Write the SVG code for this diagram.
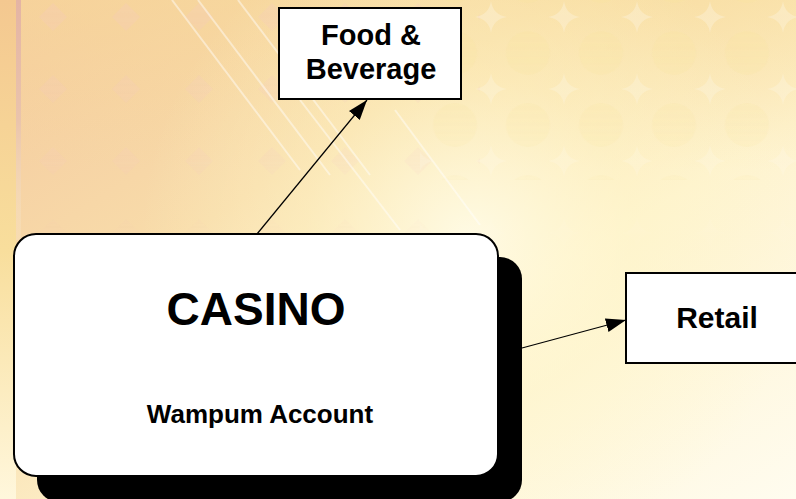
<svg xmlns="http://www.w3.org/2000/svg" width="796" height="499" viewBox="0 0 796 499">
  <defs>
    <linearGradient id="bg" x1="0" y1="0" x2="1" y2="1">
      <stop offset="0" stop-color="#f4c89e"/>
      <stop offset="0.35" stop-color="#f8dcaa"/>
      <stop offset="0.62" stop-color="#fef3cf"/>
      <stop offset="1" stop-color="#fffcef"/>
    </linearGradient>
    <radialGradient id="glow" cx="470" cy="240" r="330" gradientUnits="userSpaceOnUse">
      <stop offset="0" stop-color="#fffce8" stop-opacity="0.9"/>
      <stop offset="0.5" stop-color="#fff6c8" stop-opacity="0.45"/>
      <stop offset="1" stop-color="#fff6c8" stop-opacity="0"/>
    </radialGradient>
    <linearGradient id="topband" x1="0" y1="0" x2="0" y2="1">
      <stop offset="0" stop-color="#f8dc98" stop-opacity="0.5"/>
      <stop offset="1" stop-color="#f8dc98" stop-opacity="0"/>
    </linearGradient>
    <linearGradient id="fade" x1="0" y1="0" x2="0" y2="1">
      <stop offset="0" stop-color="#fff" stop-opacity="1"/>
      <stop offset="0.6" stop-color="#fff" stop-opacity="0.6"/>
      <stop offset="1" stop-color="#fff" stop-opacity="0"/>
    </linearGradient>
    <mask id="fadeMask">
      <rect x="0" y="0" width="796" height="260" fill="url(#fade)"/>
    </mask>
    <linearGradient id="strip" x1="0" y1="0" x2="0" y2="1">
      <stop offset="0" stop-color="#f4c890"/>
      <stop offset="0.5" stop-color="#f8de9c"/>
      <stop offset="1" stop-color="#fff7dc"/>
    </linearGradient>
    <linearGradient id="vline" x1="0" y1="0" x2="0" y2="1">
      <stop offset="0" stop-color="#e4b4a4"/>
      <stop offset="0.5" stop-color="#eac4ac"/>
      <stop offset="1" stop-color="#f8e8c8" stop-opacity="0.3"/>
    </linearGradient>
    <pattern id="dia" width="73" height="72" patternUnits="userSpaceOnUse" x="17" y="-19">
      <path d="M36 20 Q38 34 52 36 Q38 38 36 52 Q34 38 20 36 Q34 34 36 20 Z" fill="#ffffff" fill-opacity="0.25"/>
    </pattern>
    <pattern id="circ" width="73" height="72" patternUnits="userSpaceOnUse" x="-19.5" y="-55">
      <circle cx="36.5" cy="36" r="22" fill="#fbe49a" fill-opacity="0.2"/>
    </pattern>
    <pattern id="diaL" width="73" height="72" patternUnits="userSpaceOnUse" x="17" y="-19">
      <path d="M36 22 L50 36 L36 50 L22 36 Z" fill="#f4c8c8" fill-opacity="0.22"/>
    </pattern>
    <marker id="arrow" markerWidth="20" markerHeight="14" refX="20" refY="7" orient="auto" markerUnits="userSpaceOnUse">
      <path d="M0,0 L20,7 L0,14 Z" fill="#000"/>
    </marker>
    <style>
      .box { fill: #ffffff; stroke: #000000; stroke-width: 2; }
      .shadow { fill: #000000; }
      .lbl { font-family: "Liberation Sans", Arial, sans-serif; font-weight: bold; fill: #000000; text-anchor: middle; }
      .conn { stroke: #000000; stroke-width: 1.2; fill: none; marker-end: url(#arrow); }
      .ray { stroke: #ffffff; stroke-opacity: 0.45; stroke-width: 2; }
    </style>
  </defs>

  <!-- background scene -->
  <g id="background">
    <rect x="0" y="0" width="796" height="499" fill="url(#bg)"/>
    <rect x="0" y="0" width="796" height="170" fill="url(#topband)"/>
    <rect x="0" y="0" width="796" height="499" fill="url(#glow)"/>
    <g mask="url(#fadeMask)">
      <rect x="20" y="0" width="460" height="240" fill="url(#diaL)"/>
      <rect x="420" y="0" width="376" height="180" fill="url(#circ)"/>
      <rect x="420" y="0" width="376" height="260" fill="url(#dia)"/>
    </g>
    <rect x="0" y="0" width="16" height="499" fill="url(#strip)"/>
    <rect x="16" y="0" width="5" height="240" fill="url(#vline)"/>
    <line class="ray" x1="172" y1="0" x2="300" y2="170"/>
    <line class="ray" x1="198" y1="0" x2="330" y2="175"/>
    <line class="ray" x1="238" y1="0" x2="370" y2="175"/>
    <line class="ray" x1="300" y1="100" x2="400" y2="230"/>
    <line class="ray" x1="395" y1="110" x2="480" y2="225"/>
  </g>

  <!-- connectors -->
  <g id="connectors">
    <line class="conn" x1="257" y1="234" x2="367" y2="100"/>
    <line class="conn" x1="522" y1="348" x2="626" y2="320"/>
  </g>

  <g id="casino">
    <rect class="shadow" x="37" y="257" width="485" height="245" rx="22" ry="22"/>
    <rect class="box" x="14" y="234" width="484" height="242" rx="22" ry="22"/>
    <text class="lbl" x="256" y="325" font-size="46">CASINO</text>
    <text class="lbl" x="260" y="423" font-size="26">Wampum Account</text>
  </g>

  <g id="food-beverage">
    <rect class="box" x="279" y="8" width="182" height="91"/>
    <text class="lbl" x="371" y="45" font-size="29">Food &amp;</text>
    <text class="lbl" x="371" y="79" font-size="29">Beverage</text>
  </g>

  <g id="retail">
    <rect class="box" x="626" y="273" width="190" height="90"/>
    <text class="lbl" x="717" y="328" font-size="30">Retail</text>
  </g>
</svg>
